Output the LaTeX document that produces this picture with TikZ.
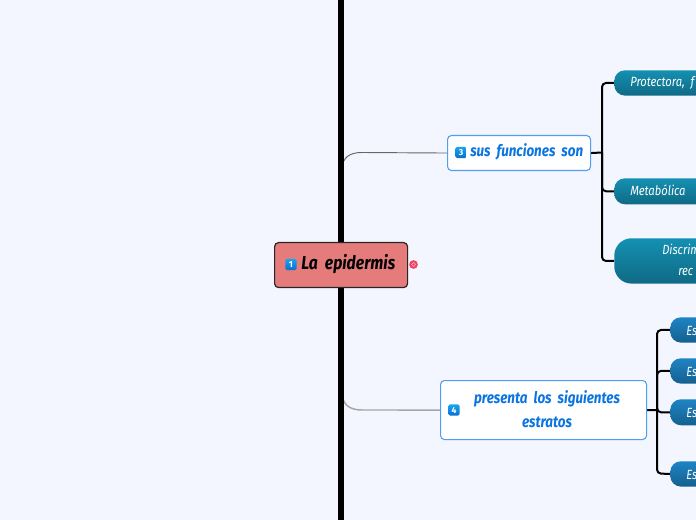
\documentclass[tikz,border=0pt]{standalone}
\usepackage{fontspec}
\newfontfamily\hand[FakeStretch=0.84,WordSpace={2.0}]{Fira Sans}
\setmainfont{Fira Sans}
\usetikzlibrary{shapes.misc}
\pgfdeclarelayer{back}
\pgfsetlayers{back,main}
\definecolor{bg}{HTML}{F3F6FF}
\definecolor{rootfill}{HTML}{E57B7B}
\definecolor{subtext}{HTML}{0A74E0}
\definecolor{subline}{HTML}{4F9FEE}
\definecolor{tealtop}{HTML}{1590B2}
\definecolor{tealbot}{HTML}{0F6A85}
\definecolor{bluetop}{HTML}{1F84C4}
\definecolor{bluebot}{HTML}{14608F}
\definecolor{icontop}{HTML}{18A4EE}
\definecolor{iconbot}{HTML}{0A6FD0}
\definecolor{markred}{HTML}{F0405F}
\tikzset{
  x=0.75pt,y=-0.75pt,
  rootnode/.style={draw=black!85,line width=0.9pt,fill=rootfill,rounded corners=3pt,anchor=north west,inner sep=0pt},
  subnode/.style={draw=subline,line width=0.8pt,fill=white,rounded corners=3pt,anchor=north west,inner sep=0pt},
  pill/.style={rounded corners=8pt,anchor=north west,inner sep=0pt,minimum width=120pt},
  tealpill/.style={pill,top color=tealtop,bottom color=tealbot},
  bluepill/.style={pill,top color=bluetop,bottom color=bluebot},
  icon/.style={rounded corners=1.2pt,top color=icontop,bottom color=iconbot,minimum size=8.5pt,inner sep=0pt,text=white,font=\fontsize{6.5}{6.5}\selectfont\bfseries},
  roottext/.style={text=black,font=\hand\fontsize{14}{16}\selectfont\bfseries\itshape,inner sep=0pt},
  subtextstyle/.style={text=subtext,font=\hand\fontsize{12}{18}\selectfont\itshape\bfseries,inner sep=0pt},
  pilltext/.style={text=white,font=\hand\fontsize{10}{12}\selectfont\itshape,inner sep=0pt,anchor=base west},
  spine/.style={line width=4.5pt,black},
  link/.style={line width=0.7pt,draw=black!60},
  linklow/.style={line width=1.1pt,draw=black!35},
  tree/.style={line width=1.5pt,black,rounded corners=3pt},
  marker/.style={circle,fill=markred,minimum size=6.5pt,inner sep=0pt}
}
\begin{document}
\begin{tikzpicture}
\useasboundingbox (0,0) rectangle (696,520);
\clip (0,0) rectangle (696,520);
\coordinate (top) at (341,0);
\coordinate (bot) at (341,520);
\coordinate (up) at (342,170);
\coordinate (dn) at (342,392);
\coordinate (tj) at (602,152.5);
\coordinate (bj) at (657,410);
\node[rootnode,minimum width=99.75pt,minimum height=33.75pt] (root) at (274,242) {};
\node[subnode,minimum width=107.25pt,minimum height=26.25pt] (fn) at (447,135) {};
\node[subnode,minimum width=154.5pt,minimum height=44.25pt] (est) at (440,380) {};
\node[tealpill,minimum height=19pt] (p1) at (614,70) {};
\node[tealpill,minimum height=19.5pt] (p2) at (614,178) {};
\node[tealpill,minimum height=34pt,rounded corners=13pt] (p3) at (614,238) {};
\node[bluepill,minimum height=19pt] (e1) at (670,317) {};
\node[bluepill,minimum height=19pt] (e2) at (670,358) {};
\node[bluepill,minimum height=19.5pt] (e3) at (670,399) {};
\node[bluepill,minimum height=19pt] (e4) at (670,461) {};
\begin{pgfonlayer}{back}
\fill[bg] (0,0) rectangle (696,520);
\draw[link] (up) .. controls (342,157) and (350,152.5) .. (362,152.5) -- (fn.west);
\draw[linklow] (dn) .. controls (342,405) and (350,410) .. (362,410) -- (est.west);
\draw[spine] (top) -- (bot);
\draw[tree] (fn.east) -- (tj);
\draw[tree] (est.east) -- (bj);
\draw[tree] (p1.west) -- (602,83) -- (602,261) -- (p3.west);
\draw[tree] (tj) |- (p2.west);
\draw[tree] (e1.west) -- (657,330) -- (657,473.5) -- (e4.west);
\draw[tree] (bj) |- (e2.west);
\draw[tree] (bj) |- (e3.west);
\end{pgfonlayer}
\node[icon] (i1) at (291,264.5) {1};
\node[icon] (i3) at (461,152.5) {3};
\node[icon] (i4) at (454,410) {4};
\node[marker] (m) at (413.5,264.5) {};
\draw[white!60!markred,line width=0.4pt] (m) circle (1.9);
\node[roottext,anchor=west] (t1) at (301,264) {La epidermis};
\node[subtextstyle,anchor=west] (t3) at (470,152) {sus funciones son};
\node[subtextstyle,align=center] (t4) at (547,409) {presenta los siguientes\\estratos};
\node[pilltext] (a) at (630,87) {Protectora, f};
\node[pilltext] (b) at (630,196) {Metabólica};
\node[pilltext] (c) at (662,255) {Discrim};
\node[pilltext] (d) at (678,276) {rec};
\node[pilltext] (f) at (686,335) {Es};
\node[pilltext] (g) at (686,376) {Es};
\node[pilltext] (h) at (686,417) {Es};
\node[pilltext] (k) at (686,479) {Es};
\end{tikzpicture}
\end{document}
